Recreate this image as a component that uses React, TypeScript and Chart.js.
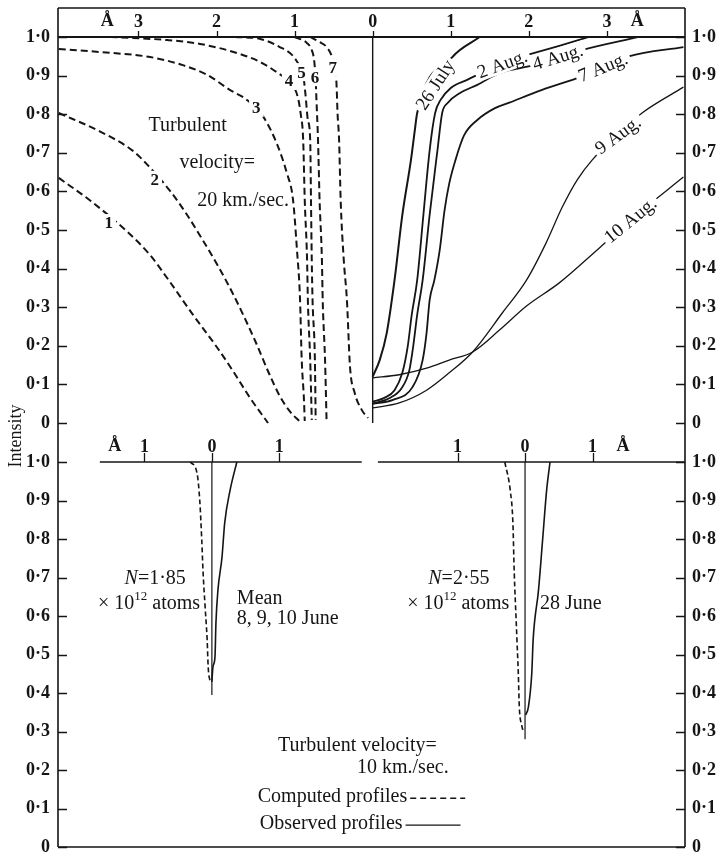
import React, { useEffect, useRef } from "react";
import { Chart, registerables } from "chart.js";

Chart.register(...registerables);

// ================= DATA =================
// Upper panel: distance from line centre (Å) vs intensity.
// Computed profiles (turbulent velocity 20 km/sec) are drawn mirrored, left of 0.
const COMP1_DL = [-4.02, -3.61, -3.14, -2.85, -2.63, -2.3, -1.99, -1.79, -1.57, -1.34];
const COMP1_I = [0.635, 0.575, 0.495, 0.435, 0.375, 0.28, 0.195, 0.135, 0.065, 0.0];
const COMP2_DL = [-4.02, -3.49, -3.07, -2.89, -2.59, -2.38, -2.21, -1.99, -1.79, -1.51, -1.32, -1.19, -1.06, -0.93];
const COMP2_I = [0.803, 0.755, 0.705, 0.67, 0.6, 0.54, 0.485, 0.41, 0.335, 0.215, 0.125, 0.07, 0.03, 0.003];
const COMP3_DL = [-4.02, -3.49, -2.85, -2.43, -2.12, -1.83, -1.61, -1.4, -1.23, -1.1, -1.02, -0.97, -0.93, -0.91, -0.88, -0.87];
const COMP3_I = [0.969, 0.961, 0.948, 0.927, 0.902, 0.863, 0.837, 0.793, 0.725, 0.648, 0.578, 0.45, 0.319, 0.17, 0.06, 0.005];
const COMP4_DL = [-3.36, -2.63, -2.21, -1.7, -1.44, -1.23, -1.07, -0.96, -0.92, -0.89, -0.87, -0.84, -0.83, -0.8, -0.78];
const COMP4_I = [1.0, 0.992, 0.982, 0.956, 0.935, 0.909, 0.883, 0.845, 0.798, 0.733, 0.578, 0.422, 0.319, 0.163, 0.008];
const COMP5_DL = [-1.76, -1.44, -1.19, -1.03, -0.96, -0.89, -0.86, -0.83, -0.8, -0.79, -0.78, -0.77, -0.74, -0.73];
const COMP5_I = [1.0, 0.995, 0.974, 0.953, 0.933, 0.902, 0.85, 0.785, 0.733, 0.578, 0.422, 0.319, 0.163, 0.008];
const COMP6_DL = [-1.0, -0.84, -0.78, -0.75, -0.73, -0.72, -0.7, -0.68, -0.65, -0.64, -0.61, -0.59];
const COMP6_I = [1.0, 0.984, 0.966, 0.94, 0.889, 0.837, 0.733, 0.578, 0.422, 0.319, 0.163, 0.003];
const COMP7_DL = [-0.8, -0.68, -0.59, -0.52, -0.47, -0.46, -0.45, -0.43, -0.41, -0.37, -0.33, -0.29, -0.23, -0.14, -0.06];
const COMP7_I = [1.0, 0.987, 0.974, 0.948, 0.902, 0.863, 0.803, 0.733, 0.578, 0.422, 0.319, 0.145, 0.078, 0.034, 0.013];

// Observed profiles (right of 0)
const JUL26_DL = [0, 0.09, 0.18, 0.28, 0.38, 0.49, 0.54, 0.57, 1.02, 1.37];
const JUL26_I = [0.12, 0.163, 0.233, 0.37, 0.539, 0.681, 0.759, 0.803, 0.948, 1.0];
const AUG2_DL = [0, 0.15, 0.28, 0.38, 0.45, 0.5, 0.57, 0.65, 0.73, 0.8, 0.87, 1.0, 1.21, 1.34, 1.66, 1.97, 2.39, 2.77];
const AUG2_I = [0.055, 0.065, 0.085, 0.13, 0.2, 0.28, 0.37, 0.54, 0.707, 0.803, 0.837, 0.868, 0.889, 0.902, 0.935, 0.953, 0.977, 1.0];
const AUG4_DL = [0, 0.22, 0.37, 0.47, 0.52, 0.57, 0.64, 0.73, 0.83, 0.89, 0.96, 1.12, 1.34, 1.63, 2.07, 2.68, 3.41];
const AUG4_I = [0.05, 0.065, 0.09, 0.137, 0.2, 0.28, 0.37, 0.54, 0.707, 0.803, 0.829, 0.855, 0.876, 0.907, 0.927, 0.966, 1.0];
const AUG7_DL = [0, 0.26, 0.51, 0.64, 0.69, 0.73, 0.79, 0.86, 0.92, 0.98, 1.06, 1.17, 1.34, 1.56, 1.75, 2.17, 2.61, 2.95, 3.28, 3.98];
const AUG7_I = [0.05, 0.06, 0.093, 0.163, 0.233, 0.319, 0.37, 0.45, 0.55, 0.62, 0.681, 0.745, 0.785, 0.815, 0.83, 0.863, 0.893, 0.92, 0.95, 0.974];
const AUG9_DL = [0, 0.34, 0.69, 0.98, 1.28, 1.66, 1.97, 2.22, 2.43, 2.62, 2.81, 3.13, 3.45, 3.98];
const AUG9_I = [0.039, 0.052, 0.085, 0.13, 0.184, 0.285, 0.37, 0.466, 0.56, 0.63, 0.681, 0.745, 0.803, 0.87];
const AUG10_DL = [0, 0.34, 0.69, 0.98, 1.28, 1.62, 1.97, 2.39, 2.9, 3.41, 3.98];
const AUG10_I = [0.117, 0.125, 0.142, 0.163, 0.184, 0.24, 0.303, 0.363, 0.453, 0.544, 0.637];

// Lower panel (turbulent velocity 10 km/sec)
const JUNE_MEAN_COMP_DL = [-0.32, -0.22, -0.18, -0.15, -0.13, -0.1, -0.07, -0.055, -0.03, -0.01];
const JUNE_MEAN_COMP_I = [1.0, 0.971, 0.901, 0.797, 0.712, 0.623, 0.538, 0.468, 0.434, 0.429];
const JUNE_MEAN_OBS_DL = [0.0, 0.016, 0.046, 0.06, 0.09, 0.15, 0.19, 0.27, 0.37];
const JUNE_MEAN_OBS_I = [0.429, 0.468, 0.494, 0.582, 0.668, 0.753, 0.842, 0.927, 1.0];
const JUNE28_COMP_DL = [-0.3, -0.22, -0.18, -0.16, -0.13, -0.12, -0.1, -0.085, -0.05, -0.025];
const JUNE28_COMP_I = [1.0, 0.927, 0.842, 0.712, 0.582, 0.538, 0.452, 0.364, 0.317, 0.299];
const JUNE28_OBS_DL = [0.01, 0.05, 0.1, 0.12, 0.2, 0.26, 0.32, 0.37];
const JUNE28_OBS_I = [0.343, 0.364, 0.452, 0.538, 0.668, 0.797, 0.927, 1.0];
const JUNE_MEAN_CENTRE_I = [1.0, 0.395];
const JUNE28_CENTRE_I = [1.0, 0.28];

// Axis ticks
const INTENSITY_TICKS = [0, 0.1, 0.2, 0.3, 0.4, 0.5, 0.6, 0.7, 0.8, 0.9, 1.0];
const TOP_DL_TICKS = [-3, -2, -1, 0, 1, 2, 3];
const BOTTOM_DL_TICKS = [-1, 0, 1];

// ================= LAYOUT / STYLE =================
const SERIF = '"Liberation Serif", "Times New Roman", serif';
const INK = "#151515";
const font = (size: number, weight = "normal", style = "normal") => `${style} ${weight} ${size}px ${SERIF}`;

const TOP_X = { min: -4.03, max: 4.0 };
const TOP_Y = { min: -0.0518, max: 1.0751 };
const BOT_X = { min: -2.28, max: 7.01 };
const BOT_Y = { min: 0, max: 1.0494 };
const JUNE28_CENTRE = 4.64; // second profile's line centre on the lower axis
const TOP_ANGSTROM = [-3.4, 3.39];
const BOT_ANGSTROM = [-1.44, JUNE28_CENTRE + 1.45];
const BOT_CONTINUUM = [
  [-1.66, 2.22],
  [2.46, 7.01],
];

const fmtI = (v: number) => (Math.abs(v) < 1e-9 ? "0" : v.toFixed(1).replace(".", "\u00b7"));

const pts = (xs: number[], ys: number[], dx = 0) => xs.map((x, i) => ({ x: x + dx, y: ys[i] }));

function curve(label: string, data: { x: number; y: number }[], w: number, dash: number[] = [], smooth = true) {
  return {
    label,
    data,
    borderColor: INK,
    borderWidth: w,
    borderDash: dash,
    borderCapStyle: "butt",
    pointRadius: 0,
    fill: false,
    tension: smooth ? 0.4 : 0,
    cubicInterpolationMode: smooth ? "monotone" : "default",
  };
}

function yAxis(pos: "left" | "right", range: { min: number; max: number }) {
  return {
    type: "linear",
    position: pos,
    min: range.min,
    max: range.max,
    afterBuildTicks: (s: any) => {
      s.ticks = INTENSITY_TICKS.map((v) => ({ value: v }));
    },
    afterFit: (s: any) => {
      s.width = pos === "left" ? 58 : 36;
      s.paddingTop = 0;
      s.paddingBottom = 0;
    },
    grid: { display: false, drawTicks: false },
    border: { display: false },
    ticks: {
      autoSkip: false,
      padding: pos === "left" ? 8 : 7,
      color: INK,
      font: { family: SERIF, size: 18, weight: "bold" },
      callback: (v: any) => fmtI(Number(v)),
    },
  };
}

type Note = { t: string; x: number; y: number; size?: number; bold?: boolean; align?: "left" | "center"; angle?: number; mask?: boolean };

const TOP_NOTES: Note[] = [
  { t: "Turbulent", x: -2.37, y: 0.772 },
  { t: "velocity=", x: -1.99, y: 0.676 },
  { t: "20 km./sec.", x: -1.66, y: 0.578 },
  { t: "1", x: -3.38, y: 0.518, bold: true, size: 17, mask: true },
  { t: "2", x: -2.79, y: 0.63, bold: true, size: 17, mask: true },
  { t: "3", x: -1.49, y: 0.816, bold: true, size: 17, mask: true },
  { t: "4", x: -1.07, y: 0.886, bold: true, size: 17, mask: true },
  { t: "5", x: -0.91, y: 0.909, bold: true, size: 17, mask: true },
  { t: "6", x: -0.74, y: 0.896, bold: true, size: 17, mask: true },
  { t: "7", x: -0.51, y: 0.92, bold: true, size: 17, mask: true },
  { t: "26 July", x: 0.8, y: 0.876, angle: -57, mask: true, size: 19 },
  { t: "2 Aug.", x: 1.66, y: 0.93, angle: -20, mask: true, size: 19 },
  { t: "4 Aug.", x: 2.37, y: 0.948, angle: -17, mask: true, size: 19 },
  { t: "7 Aug.", x: 2.95, y: 0.922, angle: -22, mask: true, size: 19 },
  { t: "9 Aug.", x: 3.14, y: 0.746, angle: -36, mask: true, size: 19 },
  { t: "10 Aug.", x: 3.3, y: 0.526, angle: -39, mask: true, size: 19 },
];

const BOT_NOTES: Note[] = [
  { t: "Mean", x: 0.37, y: 0.647, align: "left" },
  { t: "8, 9, 10 June", x: 0.37, y: 0.595, align: "left" },
  { t: "28 June", x: 4.86, y: 0.634, align: "left" },
  { t: "Turbulent velocity=", x: 0.98, y: 0.265, align: "left" },
  { t: "10 km./sec.", x: 2.15, y: 0.208, align: "left" },
];

function drawNote(ctx: CanvasRenderingContext2D, n: Note, px: number, py: number) {
  ctx.save();
  ctx.translate(px, py);
  if (n.angle) ctx.rotate((n.angle * Math.PI) / 180);
  ctx.font = font(n.size ?? 20, n.bold ? "bold" : "normal");
  const w = ctx.measureText(n.t).width;
  const x0 = n.align === "left" ? 0 : -w / 2;
  if (n.mask) {
    ctx.fillStyle = "#ffffff";
    ctx.fillRect(x0 - 3, -9, w + 6, 18);
  }
  ctx.fillStyle = INK;
  ctx.textAlign = "left";
  ctx.textBaseline = "middle";
  ctx.fillText(n.t, x0, 1);
  ctx.restore();
}

type Run = { t: string; f: string; dy?: number };
function drawRuns(ctx: CanvasRenderingContext2D, runs: Run[], x: number, y: number) {
  let total = 0;
  const ws = runs.map((r) => {
    ctx.font = r.f;
    const w = ctx.measureText(r.t).width;
    total += w;
    return w;
  });
  let cx = x - total / 2;
  ctx.textAlign = "left";
  ctx.textBaseline = "middle";
  ctx.fillStyle = INK;
  runs.forEach((r, i) => {
    ctx.font = r.f;
    ctx.fillText(r.t, cx, y + 1 + (r.dy ?? 0));
    cx += ws[i];
  });
}

function drawFrame(chart: any, withTop: boolean, withBottom: boolean) {
  const { ctx, chartArea: a, scales } = chart;
  const y = scales.y;
  ctx.strokeStyle = INK;
  ctx.lineWidth = 1.6;
  ctx.beginPath();
  ctx.moveTo(a.left, a.top);
  ctx.lineTo(a.left, a.bottom);
  ctx.moveTo(a.right, a.top);
  ctx.lineTo(a.right, a.bottom);
  if (withTop) {
    ctx.moveTo(a.left, a.top);
    ctx.lineTo(a.right, a.top);
  }
  if (withBottom) {
    ctx.moveTo(a.left, a.bottom);
    ctx.lineTo(a.right, a.bottom);
  }
  ctx.stroke();
  ctx.lineWidth = 1.3;
  ctx.beginPath();
  for (const v of INTENSITY_TICKS) {
    const py = Math.round(y.getPixelForValue(v)) + 0.5;
    ctx.moveTo(a.left, py);
    ctx.lineTo(a.left + 9, py);
    ctx.moveTo(a.right, py);
    ctx.lineTo(a.right - 9, py);
  }
  ctx.stroke();
}

function drawWaveTicks(chart: any, centres: number[], ticks: number[], angstrom: number[], tickLen: number) {
  const { ctx, scales } = chart;
  const x = scales.x;
  const py1 = scales.y.getPixelForValue(1);
  ctx.strokeStyle = INK;
  ctx.lineWidth = 1.3;
  ctx.beginPath();
  for (const c of centres)
    for (const t of ticks) {
      const px = Math.round(x.getPixelForValue(c + t)) + 0.5;
      ctx.moveTo(px, py1);
      ctx.lineTo(px, py1 - tickLen);
    }
  ctx.stroke();
  ctx.fillStyle = INK;
  ctx.textAlign = "center";
  ctx.textBaseline = "middle";
  ctx.font = font(18, "bold");
  for (const c of centres) for (const t of ticks) ctx.fillText(String(Math.abs(t)), x.getPixelForValue(c + t), py1 - 15);
  for (const a of angstrom) ctx.fillText("\u00c5", x.getPixelForValue(a), py1 - 16);
}

const topDecor = {
  id: "topDecor",
  afterDatasetsDraw(chart: any) {
    const { ctx, chartArea: a, scales } = chart;
    ctx.save();
    drawFrame(chart, true, false);
    drawWaveTicks(chart, [0], TOP_DL_TICKS, TOP_ANGSTROM, 6);
    for (const n of TOP_NOTES) drawNote(ctx, n, scales.x.getPixelForValue(n.x), scales.y.getPixelForValue(n.y));
    // y-axis title, shared by both panels
    ctx.translate(a.left - 42, a.bottom - 7);
    ctx.rotate(-Math.PI / 2);
    ctx.font = font(18);
    ctx.fillStyle = INK;
    ctx.textAlign = "center";
    ctx.textBaseline = "middle";
    ctx.fillText("Intensity", 0, 0);
    ctx.restore();
  },
};

const bottomDecor = {
  id: "bottomDecor",
  afterDatasetsDraw(chart: any) {
    const { ctx, scales } = chart;
    const x = scales.x;
    const y = scales.y;
    ctx.save();
    drawFrame(chart, false, true);
    drawWaveTicks(chart, [0, JUNE28_CENTRE], BOTTOM_DL_TICKS, BOT_ANGSTROM, 9);
    for (const n of BOT_NOTES) drawNote(ctx, n, x.getPixelForValue(n.x), y.getPixelForValue(n.y));
    const reg = font(20);
    const ital = font(20, "normal", "italic");
    const sup = font(13);
    const atoms = (cx: number, cy: number) =>
      drawRuns(ctx, [
        { t: "\u00d7 10", f: reg },
        { t: "12", f: sup, dy: -7 },
        { t: " atoms", f: reg },
      ], cx, cy);
    drawRuns(ctx, [{ t: "N", f: ital }, { t: "=1\u00b785", f: reg }], x.getPixelForValue(-0.84), y.getPixelForValue(0.699));
    atoms(x.getPixelForValue(-0.93), y.getPixelForValue(0.634));
    drawRuns(ctx, [{ t: "N", f: ital }, { t: "=2\u00b755", f: reg }], x.getPixelForValue(3.66), y.getPixelForValue(0.699));
    atoms(x.getPixelForValue(3.65), y.getPixelForValue(0.634));
    // key
    const keys = [
      { t: "Computed profiles", x: 0.68, y: 0.132, dash: [6, 4] },
      { t: "Observed profiles", x: 0.71, y: 0.062, dash: [] as number[] },
    ];
    for (const k of keys) {
      const px = x.getPixelForValue(k.x);
      const py = y.getPixelForValue(k.y);
      ctx.font = reg;
      ctx.fillStyle = INK;
      ctx.textAlign = "left";
      ctx.textBaseline = "middle";
      ctx.fillText(k.t, px, py + 1);
      const w = ctx.measureText(k.t).width;
      ctx.strokeStyle = INK;
      ctx.lineWidth = 1.4;
      ctx.setLineDash(k.dash);
      ctx.beginPath();
      ctx.moveTo(px + w + 3, py + 2);
      ctx.lineTo(px + w + 58, py + 2);
      ctx.stroke();
      ctx.setLineDash([]);
    }
    ctx.restore();
  },
};

function topConfig(): any {
  const dash = [7, 4];
  return {
    type: "line",
    data: {
      datasets: [
        curve("continuum", [{ x: TOP_X.min, y: 1 }, { x: TOP_X.max, y: 1 }], 1.8, [], false),
        curve("centre", [{ x: 0, y: 1 }, { x: 0, y: 0 }], 1.4, [], false),
        curve("1", pts(COMP1_DL, COMP1_I), 2, dash),
        curve("2", pts(COMP2_DL, COMP2_I), 2, dash),
        curve("3", pts(COMP3_DL, COMP3_I), 2, dash),
        curve("4", pts(COMP4_DL, COMP4_I), 2, dash),
        curve("5", pts(COMP5_DL, COMP5_I), 2, dash),
        curve("6", pts(COMP6_DL, COMP6_I), 2, dash),
        curve("7", pts(COMP7_DL, COMP7_I), 2, dash),
        curve("26 July", pts(JUL26_DL, JUL26_I), 2),
        curve("2 Aug.", pts(AUG2_DL, AUG2_I), 1.8),
        curve("4 Aug.", pts(AUG4_DL, AUG4_I), 1.8),
        curve("7 Aug.", pts(AUG7_DL, AUG7_I), 1.8),
        curve("9 Aug.", pts(AUG9_DL, AUG9_I), 1.3),
        curve("10 Aug.", pts(AUG10_DL, AUG10_I), 1.3),
      ],
    },
    options: {
      animation: false,
      responsive: false,
      maintainAspectRatio: false,
      events: [],
      layout: { padding: { top: 8, bottom: 37, left: 0, right: 0 } },
      plugins: { legend: { display: false }, tooltip: { enabled: false } },
      scales: {
        x: { type: "linear", min: TOP_X.min, max: TOP_X.max, display: false },
        y: yAxis("left", TOP_Y),
        yR: yAxis("right", TOP_Y),
      },
    },
    plugins: [topDecor],
  };
}

function bottomConfig(): any {
  const dash = [5, 3];
  return {
    type: "line",
    data: {
      datasets: [
        curve("continuum a", BOT_CONTINUUM[0].map((v) => ({ x: v, y: 1 })), 1.6, [], false),
        curve("continuum b", BOT_CONTINUUM[1].map((v) => ({ x: v, y: 1 })), 1.6, [], false),
        curve("centre mean", JUNE_MEAN_CENTRE_I.map((v) => ({ x: 0, y: v })), 1.2, [], false),
        curve("centre 28 June", JUNE28_CENTRE_I.map((v) => ({ x: JUNE28_CENTRE, y: v })), 1.2, [], false),
        curve("mean computed", pts(JUNE_MEAN_COMP_DL, JUNE_MEAN_COMP_I), 1.6, dash),
        curve("mean observed", pts(JUNE_MEAN_OBS_DL, JUNE_MEAN_OBS_I), 1.6),
        curve("28 June computed", pts(JUNE28_COMP_DL, JUNE28_COMP_I, JUNE28_CENTRE), 1.6, dash),
        curve("28 June observed", pts(JUNE28_OBS_DL, JUNE28_OBS_I, JUNE28_CENTRE), 1.6),
      ],
    },
    options: {
      animation: false,
      responsive: false,
      maintainAspectRatio: false,
      events: [],
      layout: { padding: { top: 18, bottom: 5, left: 0, right: 0 } },
      plugins: { legend: { display: false }, tooltip: { enabled: false } },
      scales: {
        x: { type: "linear", min: BOT_X.min, max: BOT_X.max, display: false },
        y: yAxis("left", BOT_Y),
        yR: yAxis("right", BOT_Y),
      },
    },
    plugins: [bottomDecor],
  };
}

export default function App() {
  const topRef = useRef<HTMLCanvasElement>(null);
  const botRef = useRef<HTMLCanvasElement>(null);
  useEffect(() => {
    const top = new Chart(topRef.current as HTMLCanvasElement, topConfig());
    const bot = new Chart(botRef.current as HTMLCanvasElement, bottomConfig());
    return () => {
      top.destroy();
      bot.destroy();
    };
  }, []);
  return (
    <div style={{ position: "absolute", left: 0, top: 0, width: 721, height: 852, background: "#ffffff" }}>
      <canvas ref={topRef} width={721} height={480} style={{ position: "absolute", left: 0, top: 0 }} />
      <canvas ref={botRef} width={721} height={427} style={{ position: "absolute", left: 0, top: 425 }} />
    </div>
  );
}
